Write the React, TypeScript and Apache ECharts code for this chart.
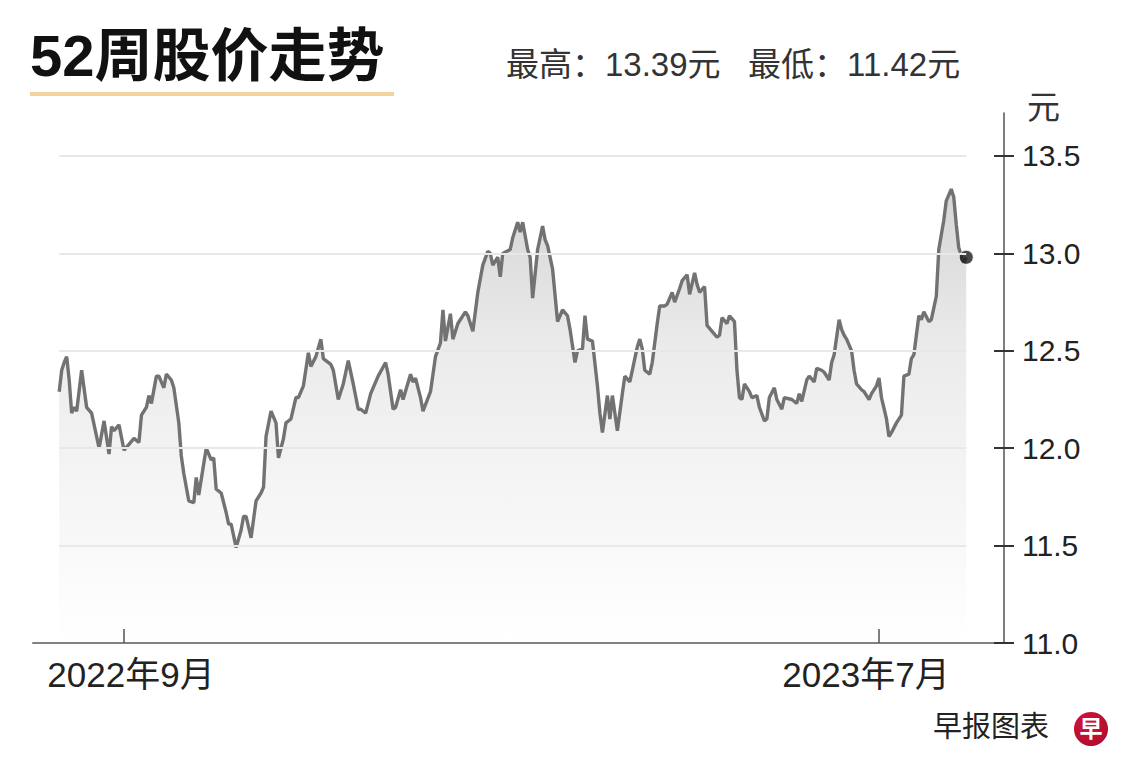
import React, { useEffect, useRef } from "react";
import * as echarts from "echarts";

// x values: calendar days since 2022-09-01
const dayOffsets: number[] = [
  -26, -25, -24, -23, -22, -21, -20, -19, -17, -15,
  -13, -10, -8, -6, -5, -4, -2, 0, 2, 4,
  6, 7, 9, 10, 11, 13, 14, 16, 17, 19,
  20, 22, 23, 24, 26, 28, 29, 30, 32, 33,
  35, 36, 37, 39, 41, 42, 43, 45, 47, 48,
  49, 51, 53, 55, 56, 57, 59, 61, 62, 64,
  65, 67, 69, 70, 72, 74, 75, 77, 79, 80,
  83, 84, 86, 88, 90, 92, 94, 95, 97, 99,
  102, 105, 106, 108, 109, 111, 112, 115, 116, 117,
  119, 120, 123, 125, 127, 128, 129, 131, 132, 134,
  137, 138, 140, 142, 144, 146, 147, 148, 150, 151,
  152, 155, 156, 158, 159, 160, 162, 163, 164, 166,
  168, 169, 170, 172, 174, 175, 176, 178, 179, 181,
  182, 184, 185, 186, 188, 190, 191, 192, 194, 195,
  196, 198, 200, 201, 203, 204, 206, 207, 208, 209,
  211, 212, 214, 215, 217, 218, 220, 221, 223, 224,
  226, 227, 229, 230, 231, 233, 234, 236, 238, 239,
  240, 242, 243, 245, 246, 247, 248, 249, 251, 252,
  254, 255, 257, 258, 259, 261, 262, 264, 265, 268,
  270, 271, 272, 274, 275, 277, 278, 280, 281, 283,
  284, 285, 287, 288, 289, 290, 292, 293, 294, 296,
  297, 299, 300, 302, 303, 304, 306, 307, 308, 310,
  312, 313, 315, 316, 317, 319, 320, 321, 323, 324,
  326, 327, 329, 330, 332, 333, 334, 335, 337, 338,
];

const prices: number[] = [
  12.29, 12.40, 12.44, 12.47, 12.35, 12.18, 12.21, 12.19, 12.40, 12.21,
  12.18, 12.00, 12.14, 11.97, 12.11, 12.09, 12.12, 11.99, 12.02, 12.05,
  12.03, 12.17, 12.21, 12.27, 12.23, 12.37, 12.37, 12.31, 12.38, 12.35,
  12.31, 12.13, 11.96, 11.87, 11.73, 11.72, 11.85, 11.76, 11.92, 12.00,
  11.94, 11.95, 11.79, 11.77, 11.67, 11.61, 11.61, 11.49, 11.58, 11.65,
  11.65, 11.54, 11.73, 11.77, 11.80, 12.06, 12.19, 12.13, 11.95, 12.05,
  12.13, 12.15, 12.26, 12.26, 12.32, 12.49, 12.42, 12.47, 12.56, 12.46,
  12.43, 12.40, 12.25, 12.33, 12.45, 12.33, 12.20, 12.20, 12.18, 12.28,
  12.37, 12.44, 12.38, 12.20, 12.21, 12.30, 12.25, 12.38, 12.34, 12.36,
  12.26, 12.19, 12.29, 12.47, 12.54, 12.71, 12.55, 12.69, 12.56, 12.64,
  12.70, 12.68, 12.60, 12.80, 12.94, 13.01, 13.00, 12.94, 12.98, 12.88,
  13.00, 13.02, 13.08, 13.16, 13.11, 13.16, 13.02, 12.98, 12.77, 13.02,
  13.14, 13.07, 13.04, 12.92, 12.65, 12.68, 12.71, 12.68, 12.61, 12.44,
  12.50, 12.51, 12.68, 12.56, 12.55, 12.32, 12.18, 12.08, 12.27, 12.15,
  12.27, 12.09, 12.28, 12.37, 12.34, 12.40, 12.52, 12.56, 12.51, 12.40,
  12.38, 12.44, 12.64, 12.73, 12.73, 12.74, 12.80, 12.75, 12.82, 12.86,
  12.89, 12.79, 12.90, 12.84, 12.80, 12.83, 12.63, 12.60, 12.57, 12.58,
  12.67, 12.64, 12.68, 12.65, 12.40, 12.26, 12.25, 12.33, 12.29, 12.26,
  12.27, 12.21, 12.14, 12.15, 12.26, 12.31, 12.25, 12.20, 12.26, 12.25,
  12.23, 12.28, 12.24, 12.35, 12.37, 12.34, 12.41, 12.40, 12.39, 12.35,
  12.44, 12.48, 12.66, 12.61, 12.58, 12.56, 12.50, 12.40, 12.33, 12.30,
  12.29, 12.25, 12.28, 12.32, 12.36, 12.26, 12.15, 12.06, 12.08, 12.13,
  12.17, 12.37, 12.38, 12.46, 12.48, 12.68, 12.66, 12.70, 12.65, 12.66,
  12.78, 13.02, 13.17, 13.27, 13.33, 13.29, 13.15, 13.03, 12.95, 12.98,
];

const xTickDays: number[] = [0, 303];
const xTickLabels: string[] = ["2022年9月", "2023年7月"];
const yTicks: number[] = [11.0, 11.5, 12.0, 12.5, 13.0, 13.5];
const yGridLines: number[] = [11.5, 12.0, 12.5, 13.0, 13.5];

const TITLE = "52周股价走势";
const SUBTITLE = "最高：13.39元   最低：11.42元";
const UNIT = "元";
const SOURCE = "早报图表";
const LOGO = "早";

const FONT = "'Liberation Sans', 'Noto Sans CJK SC', sans-serif";

export default function App() {
  const ref = useRef<HTMLDivElement>(null);

  useEffect(() => {
    document.body.style.margin = "0";
    const chart = echarts.init(ref.current!, null, { renderer: "svg" });
    const n = Math.min(dayOffsets.length, prices.length);
    const pts = [] as [number, number][];
    for (let i = 0; i < n; i++) pts.push([dayOffsets[i], prices[i]]);
    const first = pts[0][0];
    const last = pts[n - 1];

    const axisBase = {
      type: "value",
      min: 11,
      max: 13.7207,
      position: "right",
      z: 10,
      splitLine: { show: false },
    };

    const xLabelStyle = { fontSize: 35, fontFamily: FONT, color: "#222" };

    chart.setOption({
      animation: false,
      backgroundColor: "#ffffff",
      grid: { left: 33, right: 136, top: 113, bottom: 135 },
      xAxis: {
        type: "value",
        min: -36.52,
        max: 353.17,
        z: 10,
        axisLine: { show: true, onZero: false, lineStyle: { color: "#808080", width: 2 } },
        axisTick: {
          show: true,
          inside: true,
          length: 14,
          customValues: xTickDays,
          lineStyle: { color: "#555", width: 1.5 },
        },
        axisLabel: {
          show: true,
          customValues: xTickDays,
          margin: 14,
          ...xLabelStyle,
          formatter: (v: number) => {
            const i = xTickDays.indexOf(Math.round(v));
            if (i < 0) return "";
            return i === 0 ? `{l|${xTickLabels[i]}}` : `{r|${xTickLabels[i]}}`;
          },
          rich: {
            l: { ...xLabelStyle, padding: [0, 0, 0, 14] },
            r: { ...xLabelStyle, padding: [0, 26, 0, 0] },
          },
        },
        splitLine: { show: false },
      },
      yAxis: [
        {
          ...axisBase,
          axisLine: { show: true, onZero: false, lineStyle: { color: "#555", width: 1.5 } },
          axisTick: {
            show: true,
            inside: false,
            length: 10,
            customValues: yTicks,
            lineStyle: { color: "#333", width: 2 },
          },
          axisLabel: {
            show: true,
            customValues: yTicks,
            margin: 18,
            fontSize: 30,
            color: "#222",
            fontFamily: FONT,
            formatter: (v: number) => v.toFixed(1),
          },
        },
        {
          ...axisBase,
          axisLine: { show: false, onZero: false },
          axisTick: {
            show: true,
            inside: true,
            length: 10,
            customValues: yTicks,
            lineStyle: { color: "#333", width: 2 },
          },
          axisLabel: { show: false },
        },
      ],
      series: [
        {
          type: "line",
          z: 1,
          data: pts,
          symbol: "none",
          silent: true,
          lineStyle: { width: 0, opacity: 0 },
          areaStyle: {
            color: new echarts.graphic.LinearGradient(0, 0, 0, 1, [
              { offset: 0, color: "#d5d5d5" },
              { offset: 0.35, color: "#ebebeb" },
              { offset: 0.6, color: "#f3f3f3" },
              { offset: 1, color: "#ffffff" },
            ]),
            opacity: 1,
          },
        },
        {
          type: "line",
          z: 2,
          data: pts,
          symbol: "none",
          silent: true,
          lineStyle: { width: 0, opacity: 0 },
          markLine: {
            silent: true,
            symbol: ["none", "none"],
            label: { show: false },
            emphasis: { disabled: true },
            lineStyle: { color: "#e8e8e8", width: 2, type: "solid" },
            data: yGridLines.map((v) => [{ coord: [first, v] }, { coord: [last[0], v] }]),
          },
        },
        {
          type: "line",
          z: 3,
          data: pts,
          symbol: "none",
          silent: true,
          lineStyle: { color: "#727272", width: 3.4 },
        },
        {
          type: "scatter",
          z: 4,
          data: [last],
          symbol: "circle",
          symbolSize: 14,
          silent: true,
          itemStyle: { color: "#1c1c1c", borderColor: "#ffffff", borderWidth: 1 },
        },
      ],
      graphic: [
        {
          type: "text",
          left: 30,
          top: 26,
          style: { text: TITLE, font: `bold 58px ${FONT}`, fill: "#111" },
        },
        {
          type: "rect",
          shape: { x: 30, y: 92, width: 364, height: 4 },
          style: { fill: "#f1d59f" },
        },
        {
          type: "text",
          left: 506,
          top: 48,
          style: { text: SUBTITLE, font: `33px ${FONT}`, fill: "#333" },
        },
        {
          type: "text",
          left: 1027,
          top: 91,
          style: { text: UNIT, font: `33px ${FONT}`, fill: "#333" },
        },
        {
          type: "text",
          left: 933,
          top: 712,
          style: { text: SOURCE, font: `29px ${FONT}`, fill: "#222" },
        },
        {
          type: "circle",
          shape: { cx: 1091, cy: 729, r: 17 },
          style: {
            fill: new echarts.graphic.RadialGradient(0.4, 0.35, 0.8, [
              { offset: 0, color: "#d8143a" },
              { offset: 1, color: "#a80d2c" },
            ]),
          },
        },
        {
          type: "text",
          x: 1091,
          y: 729,
          style: {
            text: LOGO,
            font: `bold 23px ${FONT}`,
            fill: "#ffffff",
            align: "center",
            verticalAlign: "middle",
          },
        },
      ],
    });

    return () => chart.dispose();
  }, []);

  return <div ref={ref} style={{ width: 1140, height: 778 }} />;
}
